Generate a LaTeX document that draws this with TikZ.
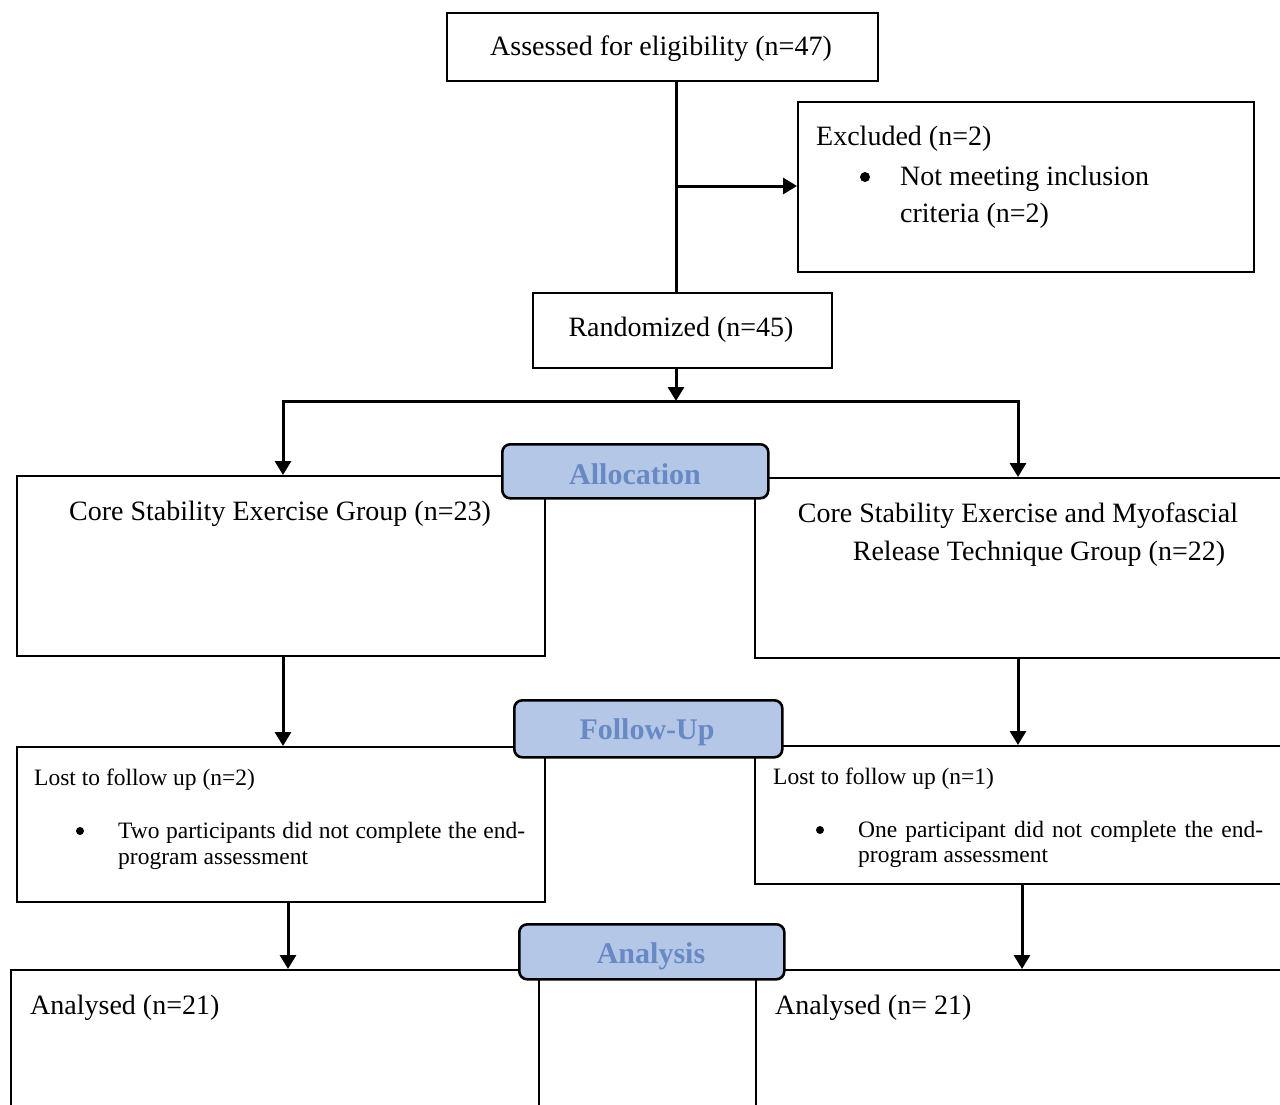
\documentclass[tikz,border=0pt]{standalone}
\usepackage{fontspec}
\setmainfont{Liberation Serif}
\usetikzlibrary{arrows.meta}
\definecolor{hfill}{RGB}{180,199,231}
\definecolor{htext}{RGB}{104,137,196}
\begin{document}
\begin{tikzpicture}[x=1pt,y=-1pt,
  box/.style={draw, line width=2.2pt, inner sep=0pt, anchor=north west},
  hdr/.style={draw, line width=2.6pt, fill=hfill, rounded corners=8pt, inner sep=0pt, anchor=north west},
  htxt/.style={inner sep=0pt, text=htext, font=\fontsize{30}{34}\selectfont\bfseries},
  big/.style={inner sep=0pt, font=\fontsize{28}{34}\selectfont},
  small/.style={inner sep=0pt, font=\fontsize{23.5}{28}\selectfont},
  dot/.style={circle, fill, inner sep=0pt, minimum size=#1},
  ln/.style={line width=3pt},
  arr/.style={line width=3pt, -{Triangle[length=14pt,width=16pt]}}]
\useasboundingbox (0,0) rectangle (1280,1104);
\clip (0,0) rectangle (1280,1104);
\fill[white] (0,0) rectangle (1280,1104);
% boxes
\node[box, minimum width=431, minimum height=68] (assess) at (446,12) {};
\node[box, minimum width=456, minimum height=170] (excl) at (797,101) {};
\node[box, minimum width=299, minimum height=75] (rand) at (532,292) {};
\node[box, minimum width=528, minimum height=180] (g1) at (16,475) {};
\node[box, minimum width=560, minimum height=180] (g2) at (754,477) {};
\node[box, minimum width=528, minimum height=155] (l1) at (16,746) {};
\node[box, minimum width=560, minimum height=138] (l2) at (754,745) {};
\node[box, minimum width=528, minimum height=220] (a1) at (10,969) {};
\node[box, minimum width=560, minimum height=220] (a2) at (755,969) {};
% texts
\node[big] (tAssess) at (661,49) {Assessed for eligibility (n=47)};
\node[big, anchor=west] (tExcl) at (816,139) {Excluded (n=2)};
\node[dot=10pt] (bExcl) at (865,177) {};
\node[big, anchor=west] (tExcl2) at (900,179) {Not meeting inclusion};
\node[big, anchor=west] (tExcl3) at (900,216) {criteria (n=2)};
\node[big] (tRand) at (681,330) {Randomized (n=45)};
\node[big] (tG1) at (280,514) {Core Stability Exercise Group (n=23)};
\node[big] (tG2a) at (1018,516) {Core Stability Exercise and Myofascial};
\node[big] (tG2b) at (1039,554) {Release Technique Group (n=22)};
\node[small, anchor=west] (tL1) at (34,780) {Lost to follow up (n=2)};
\node[dot=8pt] (bL1) at (80,831) {};
\node[small, anchor=west] (tL1a) at (118,833) {\makebox[407pt][s]{Two participants did not complete the end-}};
\node[small, anchor=west] (tL1b) at (118,860) {program assessment};
\node[small, anchor=west] (tL2) at (773,779) {Lost to follow up (n=1)};
\node[dot=8pt] (bL2) at (820,830) {};
\node[small, anchor=west] (tL2a) at (858,832) {\makebox[405pt][s]{One participant did not complete the end-}};
\node[small, anchor=west] (tL2b) at (858,858) {program assessment};
\node[big, anchor=west] (tA1) at (30,1008) {Analysed (n=21)};
\node[big, anchor=west] (tA2) at (775,1008) {Analysed (n= 21)};
% connectors
\coordinate (j1) at (676,186);
\coordinate (split) at (676,401);
\draw[ln] (assess.south -| j1) -- (rand.north -| j1);
\draw[arr] (j1) -- (j1 -| excl.west);
\draw[arr] (rand.south -| split) -- (split);
\draw[arr] (split) -| (g1.north -| 283,0);
\draw[arr] (split) -| (g2.north -| 1018,0);
\draw[arr] (g1.south -| 283,0) -- (l1.north -| 283,0);
\draw[arr] (g2.south -| 1018,0) -- (l2.north -| 1018,0);
\draw[arr] (l1.south -| 288,0) -- (a1.north -| 288,0);
\draw[arr] (l2.south -| 1022,0) -- (a2.north -| 1022,0);
% headers
\node[hdr, minimum width=266, minimum height=54] (hAlloc) at (501,443) {};
\node[htxt] (tAlloc) at (635,474) {Allocation};
\node[hdr, minimum width=268, minimum height=57] (hFollow) at (513,699) {};
\node[htxt] (tFollow) at (647,732) {Follow-Up};
\node[hdr, minimum width=265, minimum height=55] (hAnal) at (518,923) {};
\node[htxt] (tAnal) at (651,956) {Analysis};
\end{tikzpicture}
\end{document}
